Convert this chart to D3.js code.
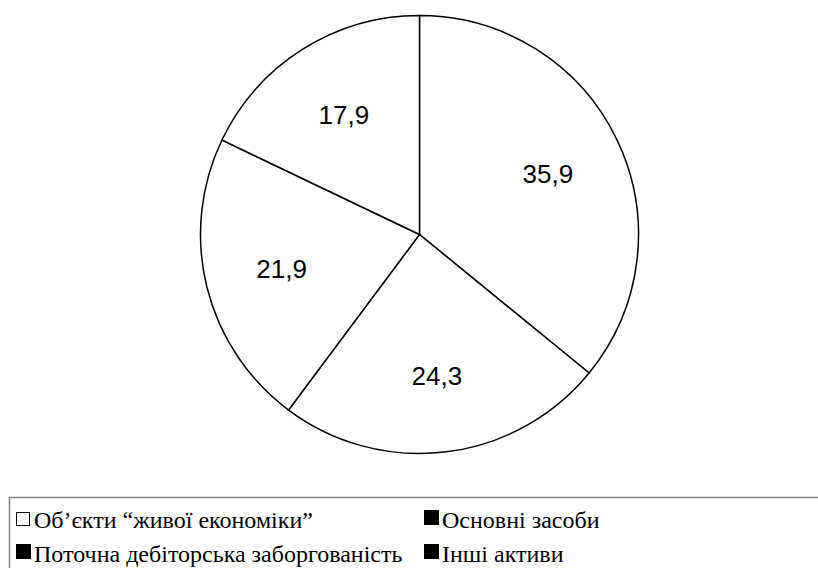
<!DOCTYPE html>
<html lang="uk">
<head>
    <meta charset="UTF-8">
    <title>Структура активів</title>
    <script src="https://d3js.org/d3.v7.min.js"></script>
    <style>
        body {
            margin: 0;
            background: #fff;
        }
        .slice {
            fill: #fff;
            stroke: #000;
            stroke-width: 1.5;
        }
        .slice-label {
            font-family: "Liberation Sans", Arial, sans-serif;
            font-size: 26px;
            fill: #000;
        }
        .legend-text {
            font-family: "Liberation Serif", "Times New Roman", serif;
            font-size: 24px;
            fill: #000;
        }
    </style>
</head>
<body>
    <svg id="chart" width="818" height="568"></svg>

    <script>
        // значення секторів, за годинниковою стрілкою від 12 години
        const values = [35.9, 24.3, 21.9, 17.9];
        const valueLabels = ["35,9", "24,3", "21,9", "17,9"];

        // легенда (рядки по два пункти)
        const legendNames = [
            "Об’єкти “живої економіки”",
            "Основні засоби",
            "Поточна дебіторська заборгованість",
            "Інші активи"
        ];
        const legendFilled = [false, true, true, true];

        const svg = d3.select("#chart");

        const cx = 419.5, cy = 234.5, radius = 219;

        const pie = d3.pie().sort(null).value(d => d);
        const arcs = pie(values);

        const arc = d3.arc().innerRadius(0).outerRadius(radius);
        const labelArc = d3.arc().innerRadius(142).outerRadius(142);

        const g = svg.append("g")
            .attr("transform", `translate(${cx},${cy})`);

        g.selectAll("path")
            .data(arcs)
            .enter()
            .append("path")
            .attr("class", "slice")
            .attr("d", arc);

        g.selectAll("text")
            .data(arcs)
            .enter()
            .append("text")
            .attr("class", "slice-label")
            .attr("transform", d => `translate(${labelArc.centroid(d)})`)
            .attr("text-anchor", "middle")
            .attr("dy", "0.36em")
            .text((d, i) => valueLabels[i]);

        // рамка легенди
        svg.append("rect")
            .attr("x", 9.5)
            .attr("y", 497.5)
            .attr("width", 830)
            .attr("height", 100)
            .attr("fill", "none")
            .attr("stroke", "#808080")
            .attr("stroke-width", 1.5);

        const colX = [16, 424];
        const rowY = [528, 562];

        const items = svg.selectAll(".legend-item")
            .data(legendNames)
            .enter()
            .append("g")
            .attr("class", "legend-item")
            .attr("transform", (d, i) => `translate(${colX[i % 2]},${rowY[Math.floor(i / 2)]})`);

        items.append("rect")
            .attr("x", (d, i) => legendFilled[i] ? 0 : 0.5)
            .attr("y", (d, i) => legendFilled[i] ? -18 : -15.5)
            .attr("width", (d, i) => legendFilled[i] ? 15 : 13)
            .attr("height", (d, i) => legendFilled[i] ? 15 : 13)
            .attr("fill", (d, i) => legendFilled[i] ? "#000" : "#fff")
            .attr("stroke", "#000")
            .attr("stroke-width", (d, i) => legendFilled[i] ? 0 : 1);

        items.append("text")
            .attr("class", "legend-text")
            .attr("x", 18)
            .attr("y", 0)
            .text(d => d);
    </script>
</body>
</html>
